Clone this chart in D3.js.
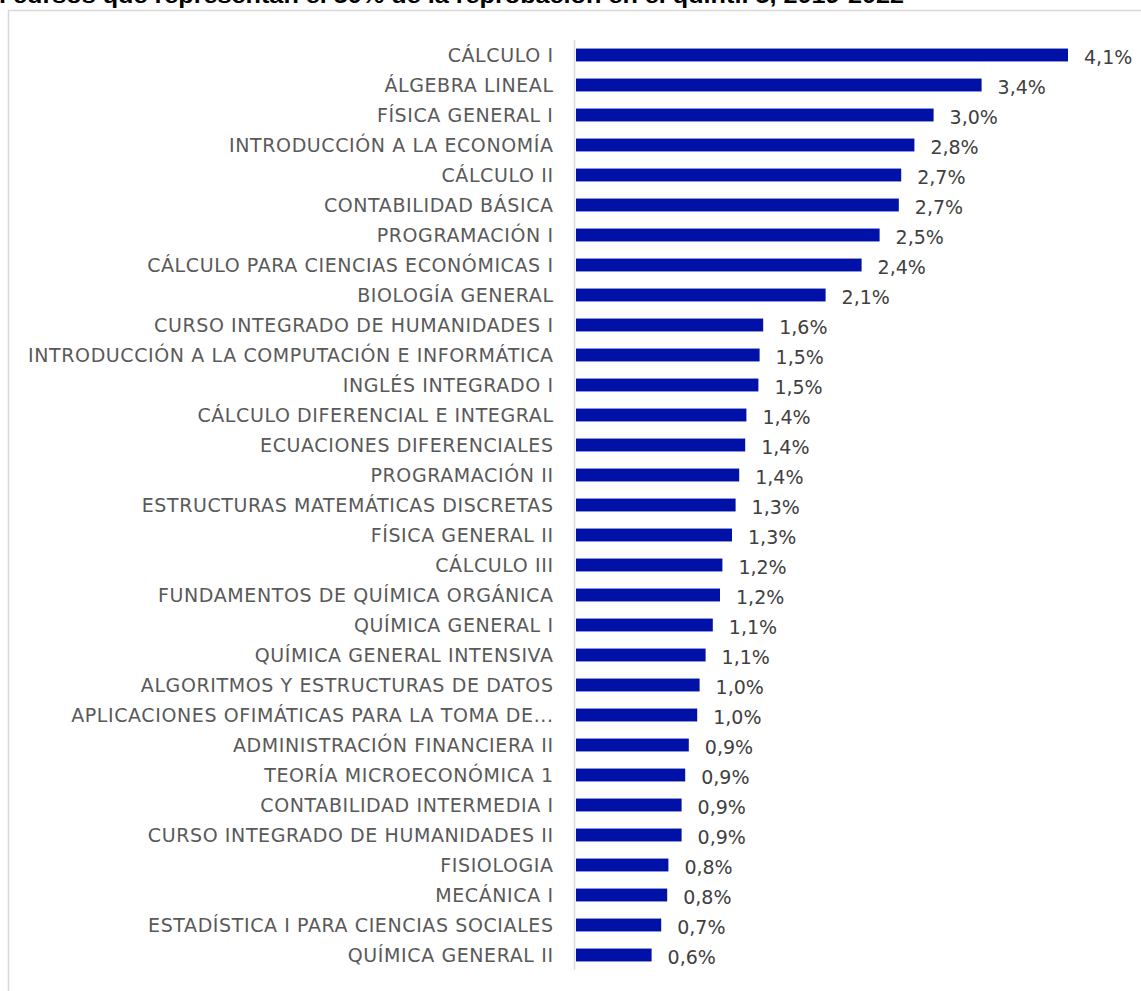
<!DOCTYPE html>
<html><head><meta charset="utf-8">
<script src="https://cdn.jsdelivr.net/npm/d3@7"></script>
<style>body{margin:0;background:#fff;overflow:hidden}</style>
</head><body>
<svg id="c" width="1141" height="991"></svg>
<script>
const titleText = "l cursos que representan el 50% de la reprobación en el quintil 5, 2019-2022";
const categories = ["CÁLCULO I","ÁLGEBRA LINEAL","FÍSICA GENERAL I","INTRODUCCIÓN A LA ECONOMÍA","CÁLCULO II","CONTABILIDAD BÁSICA","PROGRAMACIÓN I","CÁLCULO PARA CIENCIAS ECONÓMICAS I","BIOLOGÍA GENERAL","CURSO INTEGRADO DE HUMANIDADES I","INTRODUCCIÓN A LA COMPUTACIÓN E INFORMÁTICA","INGLÉS INTEGRADO I","CÁLCULO DIFERENCIAL E INTEGRAL","ECUACIONES DIFERENCIALES ","PROGRAMACIÓN II","ESTRUCTURAS MATEMÁTICAS DISCRETAS","FÍSICA GENERAL II","CÁLCULO III","FUNDAMENTOS DE QUÍMICA ORGÁNICA","QUÍMICA GENERAL I","QUÍMICA GENERAL INTENSIVA","ALGORITMOS Y ESTRUCTURAS DE DATOS","APLICACIONES OFIMÁTICAS PARA LA TOMA DE...","ADMINISTRACIÓN FINANCIERA II","TEORÍA MICROECONÓMICA 1","CONTABILIDAD INTERMEDIA I","CURSO INTEGRADO DE HUMANIDADES II","FISIOLOGIA","MECÁNICA I","ESTADÍSTICA I PARA CIENCIAS SOCIALES","QUÍMICA GENERAL II"];
const values = [4.10,3.38,2.98,2.82,2.71,2.69,2.53,2.38,2.08,1.56,1.53,1.52,1.42,1.41,1.36,1.33,1.30,1.22,1.20,1.14,1.08,1.03,1.01,0.94,0.91,0.88,0.88,0.77,0.76,0.71,0.63];
const valueLabels = ["4,1%","3,4%","3,0%","2,8%","2,7%","2,7%","2,5%","2,4%","2,1%","1,6%","1,5%","1,5%","1,4%","1,4%","1,4%","1,3%","1,3%","1,2%","1,2%","1,1%","1,1%","1,0%","1,0%","0,9%","0,9%","0,9%","0,9%","0,8%","0,8%","0,7%","0,6%"];

const svg = d3.select("#c");
// chart frame
svg.append("rect").attr("x",8.5).attr("y",10.5).attr("width",1200).attr("height",1100)
  .attr("fill","none").attr("stroke","#d9d9d9").attr("stroke-width",1.5);
// title (cut off at top)
svg.append("text").attr("x",-1).attr("y",3).attr("font-family","Liberation Sans, Arial, sans-serif")
  .attr("font-weight","bold").attr("font-size",22).attr("fill","#000")
  .attr("textLength",905).attr("lengthAdjust","spacingAndGlyphs").text(titleText);

const x0 = 576;
const x = d3.scaleLinear().domain([0,4.1]).range([x0,1068]);
const y = d3.scaleBand().domain(categories).range([40,970]).paddingInner(0.57).paddingOuter(0.285);

svg.append("g").selectAll("rect").data(values).join("rect")
  .attr("x",x(0)).attr("y",(d,i)=>y(categories[i]))
  .attr("width",d=>x(d)-x(0)).attr("height",y.bandwidth())
  .attr("fill","#0011a8");

// axis line
svg.append("line").attr("x1",x0-1.5).attr("x2",x0-1.5).attr("y1",40).attr("y2",970)
  .attr("stroke","#d9d9d9").attr("stroke-width",1.5);

svg.append("g").selectAll("text").data(categories).join("text")
  .attr("x",553.6).attr("y",d=>y(d)+y.bandwidth()/2).attr("dy","0.35em")
  .attr("text-anchor","end").attr("font-family","DejaVu Sans, sans-serif").attr("font-size",19)
  .attr("letter-spacing","0.6px")
  .attr("fill","#595959").text(d=>d);

svg.append("g").selectAll("text").data(values).join("text")
  .attr("x",d=>x(d)+16).attr("y",(d,i)=>y(categories[i])+y.bandwidth()/2+2).attr("dy","0.35em")
  .attr("font-family","DejaVu Sans, sans-serif").attr("font-size",19)
  .attr("fill","#404040").text((d,i)=>valueLabels[i]);
</script>
</body></html>
